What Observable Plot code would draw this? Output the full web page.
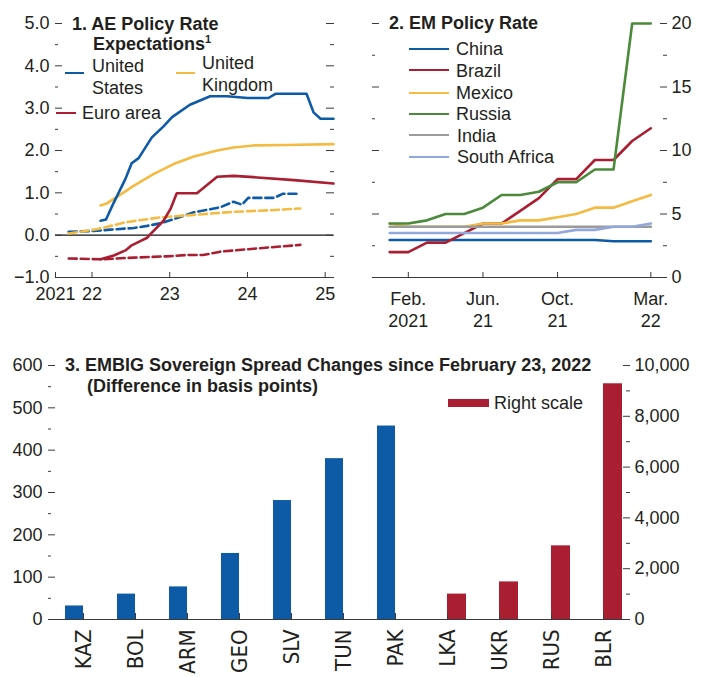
<!DOCTYPE html>
<html><head><meta charset="utf-8">
<script src="https://cdn.jsdelivr.net/npm/d3@7"></script>
<script src="https://cdn.jsdelivr.net/npm/@observablehq/plot@0.6"></script>
<style>
body{margin:0;background:#fff;}
#root{position:relative;width:708px;height:677px;overflow:hidden;font-family:"Liberation Sans",Arial,sans-serif;color:#231f20;background:#fff;}
.abs{position:absolute;white-space:nowrap;font-size:18px;line-height:22px;}
.t{font-weight:bold;}
.sw{position:absolute;height:0;border-top:2.6px solid;}
</style></head>
<body><div id="root"></div>
<script>
const FONT = '"Liberation Sans", Arial, sans-serif';
const NARROW = '"Liberation Sans Narrow", "Arial Narrow", "DejaVu Sans Condensed", sans-serif';
const INK = "#231f20";
const AXIS = "#3a3a3a";
const BLUE = "#0d5ba6", RED = "#a91e31", YELLOW = "#f3bb42", GREEN = "#4b8a3a", GRAY = "#9b9b9b", LBLUE = "#93a8da";

// ---------- Panel 1: AE policy rate expectations (x = decimal year, y = percent)
const usPolicy = [[2022.11,0.34],[2022.18,0.37],[2022.28,0.77],[2022.43,1.33],[2022.51,1.70],[2022.60,1.82],[2022.77,2.31],[2022.92,2.57],[2023.03,2.79],[2023.26,3.08],[2023.52,3.28],[2023.74,3.28],[2024.00,3.24],[2024.27,3.24],[2024.36,3.34],[2024.76,3.34],[2024.85,2.90],[2024.94,2.75],[2025.107,2.75]];
const ukPolicy = [[2022.11,0.70],[2022.19,0.75],[2022.34,0.93],[2022.54,1.17],[2022.79,1.44],[2023.05,1.68],[2023.31,1.86],[2023.61,2.00],[2023.82,2.07],[2024.08,2.12],[2024.50,2.13],[2025.107,2.15]];
const euroPolicy = [[2022.11,-0.57],[2022.28,-0.48],[2022.43,-0.36],[2022.51,-0.24],[2022.62,-0.14],[2022.71,-0.06],[2022.77,0.06],[2022.92,0.34],[2023.01,0.62],[2023.09,0.99],[2023.35,0.99],[2023.61,1.38],[2023.82,1.40],[2024.08,1.37],[2024.60,1.30],[2025.107,1.22]];
const usEarlier = [[2021.70,0.08],[2022.02,0.10],[2022.24,0.13],[2022.54,0.17],[2022.71,0.22],[2022.88,0.28],[2023.05,0.38],[2023.31,0.54],[2023.65,0.66],[2023.82,0.79],[2023.93,0.72],[2024.01,0.88],[2024.34,0.88],[2024.46,0.98],[2024.68,0.98]];
const ukEarlier = [[2021.70,0.04],[2022.06,0.14],[2022.45,0.31],[2022.88,0.42],[2023.31,0.48],[2023.82,0.55],[2024.30,0.59],[2024.68,0.63]];
const euroEarlier = [[2021.70,-0.55],[2022.11,-0.57],[2022.54,-0.53],[2022.96,-0.50],[2023.21,-0.47],[2023.43,-0.47],[2023.65,-0.39],[2024.08,-0.32],[2024.68,-0.23]];
const aeXTicks = [2021.53, 2022, 2023, 2024, 2025];
const aeXLabels = ["2021", "22", "23", "24", "25"];
const aeYTicks = [-1, 0, 1, 2, 3, 4, 5];
const aeYMinor = [-0.5, 0.5, 1.5, 2.5, 3.5, 4.5];

// ---------- Panel 2: EM policy rates (monthly)
const emMonths = ["2021-01","2021-02","2021-03","2021-04","2021-05","2021-06","2021-07","2021-08","2021-09","2021-10","2021-11","2021-12","2022-01","2022-02","2022-03"];
const china = [2.95,2.95,2.95,2.95,2.95,2.95,2.95,2.95,2.95,2.95,2.95,2.95,2.85,2.85,2.85];
const brazil = [2.0,2.0,2.75,2.75,3.5,4.25,4.25,5.25,6.25,7.75,7.75,9.25,9.25,10.75,11.75];
const mexico = [4.25,4.0,4.0,4.0,4.0,4.25,4.25,4.5,4.5,4.75,5.0,5.5,5.5,6.0,6.5];
const russia = [4.25,4.25,4.5,5.0,5.0,5.5,6.5,6.5,6.75,7.5,7.5,8.5,8.5,20,20];
const india = [4.0,4.0,4.0,4.0,4.0,4.0,4.0,4.0,4.0,4.0,4.0,4.0,4.0,4.0,4.0];
const southAfrica = [3.5,3.5,3.5,3.5,3.5,3.5,3.5,3.5,3.5,3.5,3.75,3.75,4.0,4.0,4.25];
const emXTicks = ["2021-02","2021-06","2021-10","2022-03"];
const emXLabels = ["Feb.\n2021","Jun.\n21","Oct.\n21","Mar.\n22"];
const emYTicks = [0, 5, 10, 15, 20];
const emYMinor = [2.5, 7.5, 12.5, 17.5];

// ---------- Panel 3: EMBIG spread changes (basis points)
const leftCodes = ["KAZ","BOL","ARM","GEO","SLV","TUN","PAK"];
const leftValues = [32, 60, 77, 156, 281, 380, 457];
const rightCodes = ["LKA","UKR","RUS","BLR"];
const rightValues = [1000, 1480, 2900, 9280];
const leftTicks = [0, 100, 200, 300, 400, 500, 600];
const leftMinor = [50, 150, 250, 350, 450, 550];
const rightTicks = [0, 2000, 4000, 6000, 8000, 10000];
const rightMinor = [1000, 3000, 5000, 7000, 9000];

const root = document.getElementById("root");
function place(el, left, top) {
  el.style.position = "absolute"; el.style.left = left + "px"; el.style.top = top + "px";
  root.appendChild(el);
}
function label(html, left, top, cls = "") {
  const d = document.createElement("div");
  d.className = "abs " + cls; d.innerHTML = html;
  d.style.left = left + "px"; d.style.top = top + "px";
  root.appendChild(d);
}
function swatch(color, left, cy, width, thick = 2.6) {
  const d = document.createElement("div");
  d.className = "sw"; d.style.borderTopColor = color; d.style.borderTopWidth = thick + "px";
  d.style.left = left + "px"; d.style.top = (cy - thick / 2) + "px"; d.style.width = width + "px";
  root.appendChild(d);
}
const style = {fontFamily: FONT, fontSize: "18px", color: INK, background: "transparent", overflow: "visible"};
const none = () => "";
const fmt1 = d => (d < 0 ? "\u2212" : "") + Math.abs(d).toFixed(1);

// ---------- Panel 1
const aeSeries = [
  {data: usEarlier, color: BLUE, dash: "8,4"},
  {data: ukEarlier, color: YELLOW, dash: "8,4"},
  {data: euroEarlier, color: RED, dash: "8,4"},
  {data: ukPolicy, color: YELLOW, dash: null},
  {data: usPolicy, color: BLUE, dash: null},
  {data: euroPolicy, color: RED, dash: null}
];
const p1 = Plot.plot({
  width: 354, height: 310, marginTop: 23, marginBottom: 33, marginLeft: 55, marginRight: 21,
  style,
  x: {type: "linear", domain: [2021.53, 2025.107]},
  y: {domain: [-1, 5]},
  marks: [
    Plot.ruleY([-1], {stroke: AXIS, strokeWidth: 1.2}),
    Plot.ruleY([0], {stroke: "#111", strokeWidth: 1.2}),
    Plot.axisY(aeYTicks, {anchor: "left", tickSize: 0, tickPadding: 6, tickFormat: fmt1, label: null, fontSize: 18}),
    Plot.axisY(aeYTicks, {anchor: "left", tickSize: 7, dx: 7, tickFormat: none, label: null, stroke: AXIS}),
    Plot.axisY(aeYMinor, {anchor: "left", tickSize: 3, dx: 3, tickFormat: none, label: null, stroke: AXIS}),
    Plot.axisY(aeYTicks, {anchor: "right", tickSize: 8, dx: -8, tickFormat: none, label: null, stroke: AXIS}),
    Plot.axisY(aeYMinor, {anchor: "right", tickSize: 4, dx: -4, tickFormat: none, label: null, stroke: AXIS}),
    Plot.axisX(aeXTicks, {anchor: "bottom", tickSize: 5, dy: -5, tickFormat: none, label: null, stroke: AXIS}),
    Plot.axisX(aeXTicks, {anchor: "bottom", tickSize: 0, tickPadding: 10, tickFormat: d => aeXLabels[aeXTicks.indexOf(d)], label: null, fontSize: 18}),
    ...aeSeries.map(s => Plot.line(s.data, {x: d => d[0], y: d => d[1], stroke: s.color, strokeWidth: 2.6, strokeDasharray: s.dash}))
  ]
});
place(p1, 0, 0);
label("1. AE Policy Rate", 72, 13, "t");
label("Expectations<sup style=\"font-size:11px;line-height:0\">1</sup>", 93, 33, "t");
swatch(BLUE, 65, 73, 19);
label("United<br>States", 92, 55);
swatch(YELLOW, 176, 73, 19);
label("United<br>Kingdom", 202, 52);
swatch(RED, 56, 113, 20);
label("Euro area", 82, 102);

// ---------- Panel 2
const monthIndex = s => (+s.slice(0, 4) - 2021) * 12 + (+s.slice(5, 7) - 1);
const emSeries = [
  {name: "China", values: china, color: BLUE},
  {name: "Brazil", values: brazil, color: RED},
  {name: "Mexico", values: mexico, color: YELLOW},
  {name: "Russia", values: russia, color: GREEN},
  {name: "India", values: india, color: GRAY},
  {name: "South Africa", values: southAfrica, color: LBLUE}
];
const emTicksIdx = emXTicks.map(monthIndex);
const p2 = Plot.plot({
  width: 354, height: 330, marginTop: 23, marginBottom: 53, marginLeft: 18, marginRight: 42,
  style,
  x: {type: "linear", domain: [-0.92, 14.84]},
  y: {domain: [0, 20]},
  marks: [
    Plot.ruleY([0], {stroke: AXIS, strokeWidth: 1.2}),
    Plot.axisY(emYTicks, {anchor: "right", tickSize: 0, tickPadding: 5, label: null, fontSize: 18}),
    Plot.axisY(emYTicks, {anchor: "right", tickSize: 7, dx: -7, tickFormat: none, label: null, stroke: AXIS}),
    Plot.axisY(emYMinor, {anchor: "right", tickSize: 4, dx: -4, tickFormat: none, label: null, stroke: AXIS}),
    Plot.axisY(emYTicks, {anchor: "left", tickSize: 7, dx: 7, tickFormat: none, label: null, stroke: AXIS}),
    Plot.axisY(emYMinor, {anchor: "left", tickSize: 3, dx: 3, tickFormat: none, label: null, stroke: AXIS}),
    Plot.axisX(emTicksIdx, {anchor: "bottom", tickSize: 5, dy: -5, tickFormat: none, label: null, stroke: AXIS}),
    Plot.axisX(emTicksIdx, {anchor: "bottom", tickSize: 0, tickPadding: 11, lineHeight: 1.26, tickFormat: d => emXLabels[emTicksIdx.indexOf(d)], label: null, fontSize: 18}),
    ...emSeries.map(s => Plot.line(s.values, {x: (d, i) => monthIndex(emMonths[i]), y: d => d, stroke: s.color, strokeWidth: 2.6}))
  ]
});
place(p2, 354, 0);
label("2. EM Policy Rate", 389, 12, "t");
const legendRows = [49.3, 70.7, 93, 114.3, 135.5, 157];
emSeries.forEach((s, i) => {
  swatch(s.color, 409, legendRows[i], 40);
  label(s.name, i >= 4 ? 457 : 456, legendRows[i] - 11);
});

// ---------- Panel 3
const allCodes = leftCodes.concat(rightCodes);
const leftRows = leftCodes.map((c, i) => ({code: c, value: leftValues[i]}));
const rightRows = rightCodes.map((c, i) => ({code: c, value: rightValues[i]}));
const k = 600 / 10000; // right scale mapped onto left scale
const p3 = Plot.plot({
  width: 708, height: 337, marginTop: 25, marginBottom: 58, marginLeft: 48, marginRight: 79,
  style,
  x: {type: "band", domain: allCodes, range: [57, 629], padding: 0},
  y: {domain: [0, 600]},
  marks: [
    Plot.barY(leftRows, {x: "code", y: "value", fill: BLUE, insetLeft: 8, insetRight: 26}),
    Plot.barY(rightRows, {x: "code", y: d => d.value * k, fill: RED, insetLeft: 26, insetRight: 7}),
    Plot.ruleY([0], {stroke: AXIS, strokeWidth: 1.2}),
    Plot.axisY(leftTicks, {anchor: "left", tickSize: 0, tickPadding: 6, label: null, fontSize: 18}),
    Plot.axisY(leftTicks, {anchor: "left", tickSize: 7, dx: 7, tickFormat: none, label: null, stroke: AXIS}),
    Plot.axisY(leftMinor, {anchor: "left", tickSize: 3, dx: 3, tickFormat: none, label: null, stroke: AXIS}),
    Plot.axisY(rightTicks.map(v => v * k), {anchor: "right", tickSize: 0, tickPadding: 5, tickFormat: d => d3.format(",")(Math.round(d / k)), label: null, fontSize: 18}),
    Plot.axisY(rightTicks.map(v => v * k), {anchor: "right", tickSize: 7, dx: -7, tickFormat: none, label: null, stroke: AXIS}),
    Plot.axisY(rightMinor.map(v => v * k), {anchor: "right", tickSize: 4, dx: -4, tickFormat: none, label: null, stroke: AXIS}),
    Plot.axisX(allCodes, {anchor: "bottom", tickSize: 6, dy: -6, tickFormat: none, label: null, stroke: AXIS}),
    Plot.axisX(allCodes, {anchor: "bottom", tickSize: 0, tickPadding: 10, tickRotate: -90, label: null, fontSize: 22, fontFamily: NARROW})
  ]
});
place(p3, 0, 340);
label("3. EMBIG Sovereign Spread Changes since February 23, 2022", 65, 354, "t");
label("(Difference in basis points)", 87, 375, "t");
const sq = document.createElement("div");
sq.style.cssText = `position:absolute;left:448px;top:399px;width:41px;height:8px;background:${RED};`;
root.appendChild(sq);
label("Right scale", 494, 392);
</script>
</body></html>
